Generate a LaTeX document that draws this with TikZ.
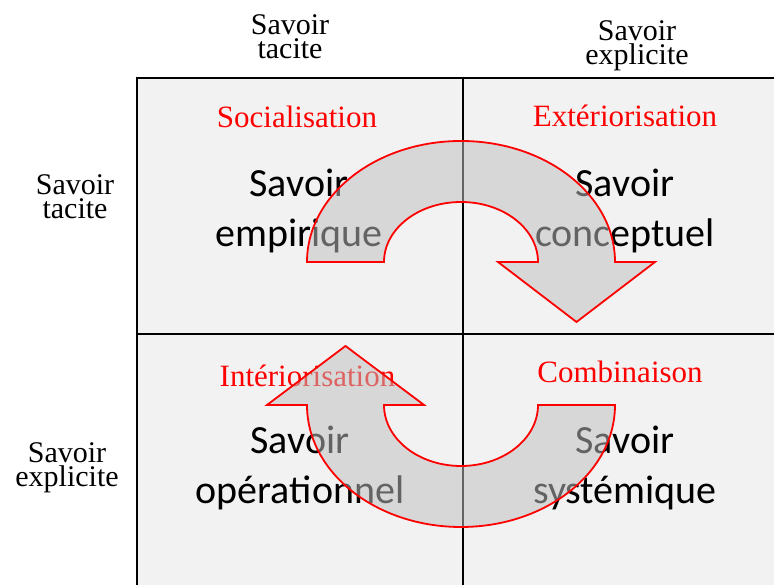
\documentclass[tikz,border=0pt]{standalone}
\usepackage{fontspec}
\setmainfont{Liberation Serif}
\newfontfamily\carlito{Carlito}
\definecolor{cellgray}{HTML}{F2F2F2}
\definecolor{arrowgray}{HTML}{BFBFBF}
\begin{document}
\begin{tikzpicture}[x=1pt,y=1pt,
  axe/.style={align=center,inner sep=0pt,font=\fontsize{30}{24}\selectfont},
  mode/.style={anchor=base,inner sep=0pt,text=red,font=\fontsize{31}{31}\selectfont},
  savoir/.style={align=center,inner sep=0pt,font=\carlito\fontsize{40}{50}\selectfont},
  grille/.style={line width=1.1pt},
  cycle/.style={draw=red,line width=1.8pt,fill=arrowgray,fill opacity=0.52}]
\useasboundingbox (0,0) rectangle (774,585);
\fill[cellgray] (137,0) rectangle (774,507);
\draw[grille] (137,0)--(137,507)--(774,507);
\draw[grille] (463,0)--(463,507);
\draw[grille] (137,251)--(774,251);

\node[axe] (haut tacite) at (290,548) {Savoir\\tacite};
\node[axe] (haut explicite) at (637,539.5) {Savoir\\explicite};
\node[axe] (gauche tacite) at (75,388.5) {Savoir\\tacite};
\node[axe] (gauche explicite) at (67,117) {Savoir\\explicite};

\node[mode] (socialisation) at (297,457) {Socialisation};
\node[mode] (exteriorisation) at (625,458) {Extériorisation};
\node[mode] (interiorisation) at (307.5,198) {Intériorisation};
\node[mode] (combinaison) at (620,202) {Combinaison};

\node[savoir] (empirique) at (299,374.4) {Savoir\\empirique};
\node[savoir] (conceptuel) at (625,374.4) {Savoir\\conceptuel};
\node[savoir] (operationnel) at (300,117.4) {Savoir\\opérationnel};
\node[savoir] (systemique) at (625,117.4) {Savoir\\systémique};

\draw[cycle] (307,323) arc[start angle=180,end angle=0,x radius=154,y radius=121]
  -- (655,323) -- (576.5,263) -- (498,323) -- (538,323)
  arc[start angle=0,end angle=180,x radius=77,y radius=60] -- cycle;
\draw[cycle] (615,180) arc[start angle=0,end angle=-180,x radius=154,y radius=122]
  -- (267,180) -- (345.5,239) -- (424,180) -- (384,180)
  arc[start angle=180,end angle=360,x radius=77,y radius=61] -- cycle;
\end{tikzpicture}
\end{document}
